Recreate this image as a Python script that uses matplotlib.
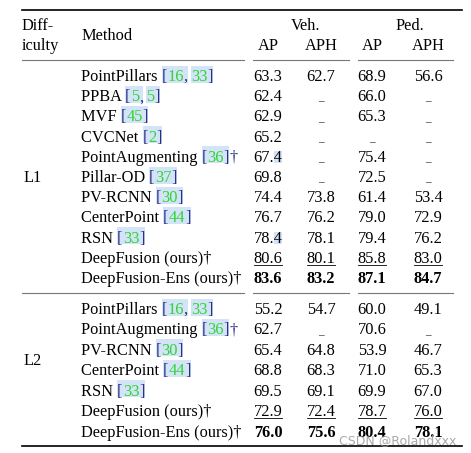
"""Waymo val results table (L1 / L2), redrawn as a matplotlib figure."""
import matplotlib
matplotlib.use("Agg")
import matplotlib.pyplot as plt
from matplotlib.patches import Rectangle

W, H = 471, 453
SERIF = "Liberation Serif"
FS = 11.8
REF_BLUE = "#2b2f86"
REF_GREEN = "#2fd62f"
LINK_BG = "#d3e3f8"

# ---- data ----
L1_METHODS = ["PointPillars", "PPBA", "MVF", "CVCNet", "PointAugmenting", "Pillar-OD",
              "PV-RCNN", "CenterPoint", "RSN", "DeepFusion (ours)", "DeepFusion-Ens (ours)"]
L1_REFS = [["16", "33"], ["5", "5"], ["45"], ["2"], ["36"], ["37"], ["30"], ["44"], ["33"], [], []]
L1_DAGGER = [False, False, False, False, True, False, False, False, False, True, True]
L1_VEH_AP = [63.3, 62.4, 62.9, 65.2, 67.4, 69.8, 74.4, 76.7, 78.4, 80.6, 83.6]
L1_VEH_APH = [62.7, None, None, None, None, None, 73.8, 76.2, 78.1, 80.1, 83.2]
L1_PED_AP = [68.9, 66.0, 65.3, None, 75.4, 72.5, 61.4, 79.0, 79.4, 85.8, 87.1]
L1_PED_APH = [56.6, None, None, None, None, None, 53.4, 72.9, 76.2, 83.0, 84.7]

L2_METHODS = ["PointPillars", "PointAugmenting", "PV-RCNN", "CenterPoint", "RSN",
              "DeepFusion (ours)", "DeepFusion-Ens (ours)"]
L2_REFS = [["16", "33"], ["36"], ["30"], ["44"], ["33"], [], []]
L2_DAGGER = [False, True, False, False, False, True, True]
L2_VEH_AP = [55.2, 62.7, 65.4, 68.8, 69.5, 72.9, 76.0]
L2_VEH_APH = [54.7, None, 64.8, 68.3, 69.1, 72.4, 75.6]
L2_PED_AP = [60.0, 70.6, 53.9, 71.0, 69.9, 78.7, 80.4]
L2_PED_APH = [49.1, None, 46.7, 65.3, 67.0, 76.0, 78.1]

# stray link boxes over a digit (row index in L1, column)
L1_DIGIT_BOX = [(4, 0), (8, 0)]

# ---- layout ----
COL_X = [268, 321, 372, 428]
METHOD_X = 81
DIFF_X = 22
L1_BASE, L1_STEP = 81.0, 20.2
L2_BASE, L2_STEP = 314.0, 20.45

fig = plt.figure(figsize=(W / 100, H / 100), dpi=100)
ax = fig.add_axes([0, 0, 1, 1])
ax.set_xlim(0, W)
ax.set_ylim(H, 0)
ax.axis("off")
renderer = fig.canvas.get_renderer()


def txt(x, y, s, color="black", weight="normal", ha="left", size=FS, family=SERIF):
    return ax.text(x, y, s, color=color, fontweight=weight, ha=ha, va="baseline",
                   fontsize=size, family=family)


def width(t):
    return t.get_window_extent(renderer).width


def link_box(x0, x1, y):
    ax.add_patch(Rectangle((x0, y - 15.5), x1 - x0, 17.0, color=LINK_BG, lw=0, zorder=0))


def method_cell(y, name, refs, dagger):
    t = txt(METHOD_X, y, name + " ")
    x = METHOD_X + width(t)
    if refs:
        groups = []
        for k, r in enumerate(refs):
            parts = []
            if k == 0:
                parts.append(("[", REF_BLUE))
            parts.append((r, REF_GREEN))
            parts.append(("," if k < len(refs) - 1 else "]", REF_BLUE))
            groups.append(parts)
        for gi, parts in enumerate(groups):
            x0 = x
            for s, c in parts:
                t = txt(x, y, s, color=c)
                x += width(t)
            link_box(x0, x, y)
            if gi < len(groups) - 1:
                x += 3
        if dagger:
            txt(x, y, "\u2020", color=REF_BLUE)
    elif dagger:
        # dagger follows the name directly
        t.remove()
        txt(METHOD_X, y, name + "\u2020")


def value_cell(cx, y, v, bold=False, underline=False, box_last=False):
    if v is None:
        txt(cx, y - 0.5, "_", ha="center", size=8)
        return
    s = f"{v:.1f}"
    t = txt(cx, y, s, ha="center", weight="bold" if bold else "normal")
    w = width(t)
    if box_last:
        tl = txt(0, -50, s[-1])
        wl = width(tl)
        tl.remove()
        ax.add_patch(Rectangle((cx + w / 2 - wl, y - 11), wl, 12.5, color=LINK_BG, lw=0, zorder=0))
    if underline:
        ax.plot([cx - w / 2, cx + w / 2], [y + 1.8, y + 1.8], color="black", lw=0.6)


def block(base, step, methods, refs, daggers, cols, boxes=()):
    n = len(methods)
    for i in range(n):
        y = base + i * step
        method_cell(y, methods[i], refs[i], daggers[i])
        for j, col in enumerate(cols):
            value_cell(COL_X[j], y, col[i], bold=(i == n - 1), underline=(i == n - 2),
                       box_last=(i, j) in boxes)


# ---- header ----
ax.plot([DIFF_X, 462], [10, 10], color="black", lw=1.2)
txt(DIFF_X, 30, "Diff-")
txt(DIFF_X, 50, "iculty")
txt(METHOD_X, 40, "Method")
txt(306, 30, "Veh.", ha="center")
txt(410, 30, "Ped.", ha="center")
for cx, lab in zip(COL_X, ["AP", "APH", "AP", "APH"]):
    txt(cx, 50, lab, ha="center")

RULE_SEGS = [(DIFF_X, 244), (253, 349), (358, 453)]
for x0, x1 in RULE_SEGS:
    ax.plot([x0, x1], [60, 60], color="#777777", lw=0.8)

# ---- L1 ----
block(L1_BASE, L1_STEP, L1_METHODS, L1_REFS, L1_DAGGER,
      [L1_VEH_AP, L1_VEH_APH, L1_PED_AP, L1_PED_APH], boxes=L1_DIGIT_BOX)
txt(24, L1_BASE + 5 * L1_STEP, "L1")

for x0, x1 in RULE_SEGS:
    ax.plot([x0, x1], [293, 293], color="#777777", lw=0.8)

# ---- L2 ----
block(L2_BASE, L2_STEP, L2_METHODS, L2_REFS, L2_DAGGER,
      [L2_VEH_AP, L2_VEH_APH, L2_PED_AP, L2_PED_APH])
txt(23, L2_BASE + 2.5 * L2_STEP, "L2")

ax.plot([DIFF_X, 462], [446, 446], color="black", lw=1.2)

# watermark
ax.text(398, 444, "CSDN @Rolandxxx", ha="center", va="baseline", fontsize=9,
        family="DejaVu Sans", color="#9a9a9a", alpha=0.85, zorder=5)

fig.savefig("out.png", dpi=100)
